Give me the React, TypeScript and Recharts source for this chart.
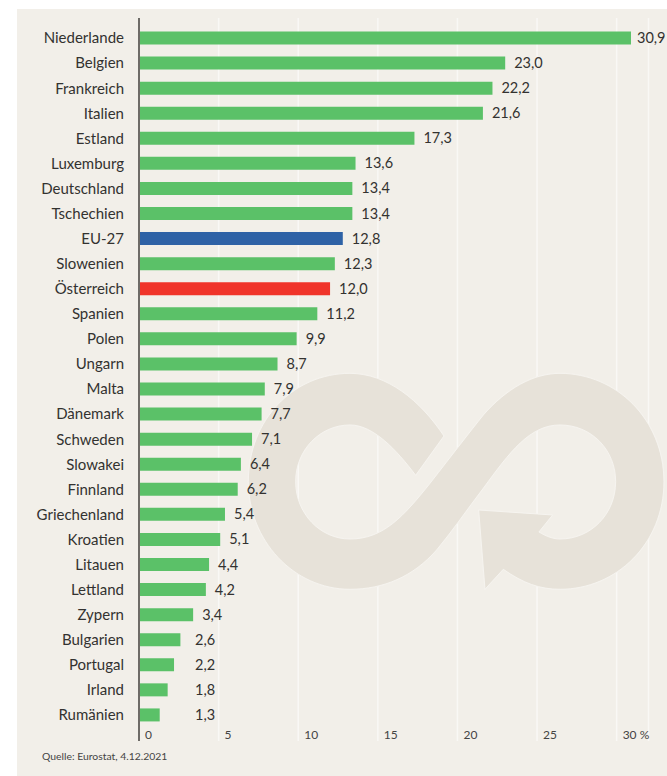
import { BarChart, Bar, XAxis, YAxis, CartesianGrid, Cell, LabelList } from 'recharts';

const countries = ['Niederlande', 'Belgien', 'Frankreich', 'Italien', 'Estland', 'Luxemburg', 'Deutschland', 'Tschechien', 'EU-27', 'Slowenien', 'Österreich', 'Spanien', 'Polen', 'Ungarn', 'Malta', 'Dänemark', 'Schweden', 'Slowakei', 'Finnland', 'Griechenland', 'Kroatien', 'Litauen', 'Lettland', 'Zypern', 'Bulgarien', 'Portugal', 'Irland', 'Rumänien'];
const rates = [30.9, 23.0, 22.2, 21.6, 17.3, 13.6, 13.4, 13.4, 12.8, 12.3, 12.0, 11.2, 9.9, 8.7, 7.9, 7.7, 7.1, 6.4, 6.2, 5.4, 5.1, 4.4, 4.2, 3.4, 2.6, 2.2, 1.8, 1.3];
const xTicks = [0, 5, 10, 15, 20, 25, 30];

const GREEN = '#5bc168';
const highlights: Record<string, string> = { 'EU-27': '#2e62a6', 'Österreich': '#f0342a' };
const FONT = 'Lato, sans-serif';
const TEXT = '#333230';

const data = countries.map((name, i) => ({ name, rate: rates[i] }));

// recycling symbol behind the bars, outline
const LOOP_PATH =
  'M612,228 L527,346 C470,270 400,195 330,195 C240,195 167,270 167,365 C167,460 240,537 330,537 ' +
  'C430,537 490,470 570,370 C640,280 690,215 730,165 C800,85 880,40 960,40 ' +
  'C1130,40 1272,180 1272,365 C1272,550 1130,688 960,688 C900,688 850,670 790,628 L735,688 L716,450 L938,465 L897,516 ' +
  'C920,530 940,537 960,537 C1055,537 1127,460 1127,365 C1127,270 1055,195 960,195 ' +
  'C870,195 810,275 730,385 C680,450 640,510 590,570 C520,650 430,688 330,688 ' +
  'C160,688 25,540 25,365 C25,180 160,40 330,40 C440,40 540,120 612,228 Z';

function ValueLabel(props: any) {
  const { x, y, width, height, value } = props;
  // short bars share one label column, the longest label has to stay inside the page
  const left = Math.min(Math.max(x + width + 9, 195), 637);
  return (
    <text x={left} y={y + height / 2 + 5} fontSize={14.5} fontFamily={FONT} fill={TEXT}>
      {value.toFixed(1).replace('.', ',')}
    </text>
  );
}

function XTick(props: any) {
  const { x, y, payload } = props;
  return (
    <text x={x + 6} y={y - 10} fontSize={12} fontFamily={FONT} fill="#444">
      {payload.value === 30 ? '30 %' : payload.value}
    </text>
  );
}

export default function App() {
  return (
    <div style={{ position: 'absolute', left: 0, top: 0, width: 667, height: 776, background: '#fff', overflow: 'hidden' }}>
      <div style={{ position: 'absolute', left: 17, top: 9, width: 650, height: 767, background: '#f2efe9' }} />
      <div style={{ position: 'absolute', left: 0, top: 0 }}>
        <BarChart
          width={667}
          height={776}
          layout="vertical"
          data={data}
          margin={{ top: 18, right: 18.5, bottom: 34, left: 0 }}
        >
          <CartesianGrid horizontal={false} vertical stroke="#f9f8f5" strokeWidth={1.5} />
          <XAxis
            type="number"
            domain={[0, 32]}
            ticks={xTicks}
            height={1}
            axisLine={false}
            tickLine={false}
            tick={XTick}
          />
          <YAxis
            type="category"
            dataKey="name"
            width={139}
            interval={0}
            padding={{ top: 7.5, bottom: 13.5 }}
            axisLine={{ stroke: '#6e6b67', strokeWidth: 2 }}
            tickLine={false}
            tickSize={0}
            tickMargin={15}
            tick={{ fontSize: 15, fontFamily: FONT, fill: TEXT }}
          />
          <g transform="translate(240,360) scale(0.3333)">
            <path d={LOOP_PATH} fill="#e7e2d9" stroke="#f6f4f0" strokeWidth={3} />
          </g>
          <Bar dataKey="rate" barSize={13} isAnimationActive={false}>
            {data.map((d) => (
              <Cell key={d.name} fill={highlights[d.name] ?? GREEN} />
            ))}
            <LabelList dataKey="rate" content={ValueLabel} />
          </Bar>
        </BarChart>
      </div>
      <div style={{ position: 'absolute', left: 42, top: 750, fontSize: 10.4, fontFamily: FONT, color: '#444' }}>
        Quelle: Eurostat, 4.12.2021
      </div>
    </div>
  );
}
